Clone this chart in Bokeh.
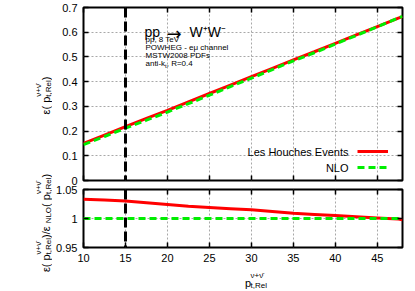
import math
from bokeh.plotting import figure
from bokeh.models import (Range1d, FixedTicker, LinearAxis, Span, Label, Legend,
                          LegendItem, PrintfTickFormatter, Grid)
from bokeh.layouts import row, column
from bokeh.embed import file_html
from bokeh.resources import INLINE
from bokeh.core.properties import value

# ---------------- data ----------------
pt_rel = [10, 12.5, 15, 17.5, 20, 22.5, 25, 27.5, 30, 32.5, 35, 37.5, 40, 42.5, 45, 47.5, 48]
eff_lhe = [0.150, 0.184, 0.218, 0.251, 0.284, 0.318, 0.352, 0.386, 0.420, 0.454,
           0.488, 0.521, 0.555, 0.589, 0.623, 0.657, 0.663]
eff_nlo = [0.145, 0.178, 0.212, 0.244, 0.277, 0.311, 0.345, 0.380, 0.414, 0.449,
           0.484, 0.517, 0.552, 0.587, 0.622, 0.658, 0.664]
ratio_lhe = [1.033, 1.032, 1.030, 1.027, 1.024, 1.021, 1.019, 1.017, 1.015, 1.012,
             1.009, 1.007, 1.005, 1.003, 1.001, 0.999, 0.998]
ratio_nlo = [1.0, 1.0, 1.0, 1.0, 1.0, 1.0, 1.0, 1.0, 1.0, 1.0,
             1.0, 1.0, 1.0, 1.0, 1.0, 1.0, 1.0]
cut_value = 15
x_ticks = [10, 15, 20, 25, 30, 35, 40, 45]
eff_ticks = [0, 0.1, 0.2, 0.3, 0.4, 0.5, 0.6, 0.7]
ratio_ticks = [0.95, 1.0, 1.05]
x_limits = (10, 48)
eff_limits = (0, 0.7)
ratio_limits = (0.95, 1.05)
series_names = ["Les Houches Events", "NLO"]
info_lines = ["pp, 8 TeV", "POWHEG - eμ channel", "MSTW2008 PDFs"]
process_parts = ["pp", "→", "W⁺W⁻"]

FONT = "Liberation Sans"
RED = "#ff0000"
GREEN = "#00ee00"

# frame geometry (pixels) of the panels
FRAME_W = 319
TOP_FRAME_H = 173
KX = (x_limits[1] - x_limits[0]) / FRAME_W          # data units per pixel (x)
KY = (eff_limits[1] - eff_limits[0]) / TOP_FRAME_H  # data units per pixel (top y)

CW = {'ε': 0.44, '(': 0.333, ')': 0.333, ' ': 0.278, 'p': 0.556, 't': 0.278, ',': 0.278,
      'R': 0.722, 'e': 0.556, 'l': 0.222, 'ν': 0.5, '+': 0.584, '\u0304': 0.0, '/': 0.278,
      'N': 0.722, 'L': 0.556, 'O': 0.778, 'k': 0.5, 'a': 0.556, 'n': 0.556, 'i': 0.222,
      '-': 0.333, '=': 0.584, '.': 0.278}


def tw(s, size):
    return sum(CW.get(c, 0.556) for c in s) * size


def compose(fig, x0, y0, segs, main=11, small=8, sub_off=-3, sup_off=7, angle=0.0,
            kx=1.0, ky=1.0, center=True):
    items = []
    cur = 0.0
    for seg in segs:
        kind = seg[0]
        if kind == "main":
            items.append((seg[1], main, cur, 0))
            cur += tw(seg[1], main)
        elif kind == "sub":
            items.append((seg[1], small, cur, sub_off))
            cur += tw(seg[1], small)
        else:
            items.append((seg[1], small, cur, sub_off))
            items.append((seg[2], small, cur, sup_off))
            cur += max(tw(seg[1], small), tw(seg[2], small))
    start = -cur / 2 if center else 0.0
    for text, size, along, perp in items:
        a = start + along
        if angle == 0.0:
            dx, dy = a, perp
        else:
            dx, dy = -perp, a
        fig.add_layout(Label(x=x0 + dx * kx, y=y0 + dy * ky, text=text,
                             angle=angle, text_font=FONT, text_font_size=f"{size}px",
                             text_color="black", text_baseline="alphabetic",
                             text_align="left"))


def add_axis(fig, side, ticks, labels=False, standoff=6):
    ax = LinearAxis(ticker=FixedTicker(ticks=ticks), formatter=PrintfTickFormatter(format="%g"))
    ax.axis_line_color = None
    ax.major_tick_in = 5
    ax.major_tick_out = 0
    ax.major_tick_line_width = 1.5
    ax.major_tick_line_color = "black"
    ax.minor_tick_in = 0
    ax.minor_tick_out = 0
    if labels:
        ax.major_label_text_font = FONT
        ax.major_label_text_font_size = "11px"
        ax.major_label_text_color = "black"
        ax.major_label_standoff = standoff
    else:
        ax.major_label_text_font_size = "1px"
        ax.major_label_text_color = None
        ax.major_label_text_alpha = 0
        ax.major_label_standoff = 0
    fig.add_layout(ax, side)


def add_grid(fig, dim, ticks):
    g = Grid(dimension=dim, ticker=FixedTicker(ticks=ticks), grid_line_color="#a8a8a8",
             grid_line_dash="2 2", grid_line_width=1)
    fig.add_layout(g)


def bare_figure(**kw):
    f = figure(x_axis_location=None, y_axis_location=None, output_backend="svg",
               toolbar_location=None, **kw)
    f.grid.visible = False
    return f


shared_x = Range1d(*x_limits)

# ---------------- top panel ----------------
top = bare_figure(width=355, height=185, x_range=shared_x, y_range=Range1d(*eff_limits),
                  min_border_left=31, min_border_right=5, min_border_top=7, min_border_bottom=5)
top.outline_line_color = "black"
top.outline_line_width = 2
add_grid(top, 0, x_ticks)
add_grid(top, 1, eff_ticks)
add_axis(top, "left", eff_ticks, labels=True)
add_axis(top, "right", eff_ticks)
add_axis(top, "below", x_ticks)
add_axis(top, "above", x_ticks)

r_lhe = top.line(pt_rel, eff_lhe, line_color=RED, line_width=3)
r_nlo = top.line(pt_rel, eff_nlo, line_color=GREEN, line_width=3, line_dash="7 4")
top.add_layout(Span(location=cut_value, dimension="height", line_color="black",
                    line_width=3, line_dash="10 4"))

legend = Legend(items=[LegendItem(label=value(" "), renderers=[r_lhe]),
                       LegendItem(label=value(" "), renderers=[r_nlo])],
                location=(274, 5), glyph_width=31, glyph_height=16, label_height=16,
                label_width=0, label_standoff=0, spacing=0, padding=0, margin=0,
                border_line_color=None, background_fill_alpha=0,
                label_text_font_size="8px", label_text_color=None)
top.add_layout(legend)

# legend texts: right edge 54 px left of the frame's right side, rows 29/13 px above bottom
for name, dpx in zip(series_names, [29, 13]):
    top.add_layout(Label(x=x_limits[1] - 54 * KX, y=eff_limits[0] + dpx * KY,
                         text=name, text_font=FONT, text_font_size="11px",
                         text_align="right", text_baseline="middle", text_color="black"))

# process label, measured in pixels from the frame's top-left corner
for part, px, py, fnt, size in zip(process_parts, [61, 83, 106], [24, 26, 24],
                                   [FONT, "DejaVu Sans", FONT], ["14px", "18px", "14px"]):
    top.add_layout(Label(x=x_limits[0] + px * KX, y=eff_limits[1] - py * KY,
                         text=part, text_font=fnt, text_font_size=size,
                         text_baseline="alphabetic", text_align="left", text_color="black"))
for i, line in enumerate(info_lines):
    top.add_layout(Label(x=x_limits[0] + 62 * KX, y=eff_limits[1] - (32 + 8 * i) * KY,
                         text=line, text_font=FONT, text_font_size="8px",
                         text_baseline="alphabetic", text_align="left", text_color="black"))
compose(top, x_limits[0] + 62 * KX, eff_limits[1] - (32 + 8 * 3) * KY,
        [("main", "anti-k"), ("sub", "t"), ("main", ", R=0.4")],
        main=8, small=6, sub_off=-2, kx=KX, ky=KY, center=False)

# ---------------- ratio panel ----------------
bot = bare_figure(width=355, height=83, x_range=shared_x, y_range=Range1d(*ratio_limits),
                  min_border_left=31, min_border_right=5, min_border_top=4, min_border_bottom=21)
bot.outline_line_color = "black"
bot.outline_line_width = 2
add_grid(bot, 0, x_ticks)
add_grid(bot, 1, ratio_ticks)
add_axis(bot, "left", ratio_ticks, labels=True)
add_axis(bot, "right", ratio_ticks)
add_axis(bot, "below", x_ticks, labels=True, standoff=6)
add_axis(bot, "above", x_ticks)

bot.line(pt_rel, ratio_lhe, line_color=RED, line_width=3)
bot.line(pt_rel, ratio_nlo, line_color=GREEN, line_width=3, line_dash="7 4")
bot.add_layout(Span(location=cut_value, dimension="height", line_color="black",
                    line_width=3, line_dash="10 4"))

# ---------------- x-axis title strip (pixel coordinates) ----------------
xlab = bare_figure(width=355, height=21, x_range=Range1d(0, 355), y_range=Range1d(0, 21),
                   min_border=0)
xlab.outline_line_color = None
compose(xlab, 191, 7, [("main", "p"), ("ss", "t,Rel", "ν+ν\u0304")], sup_off=7)

# ---------------- y-axis titles (pixel coordinates) ----------------
lab = bare_figure(width=52, height=289, x_range=Range1d(0, 52), y_range=Range1d(0, 289),
                  min_border=0)
lab.outline_line_color = None
compose(lab, 45, 195.5, [("main", "ε( p"), ("ss", "t,Rel", "ν+ν\u0304"), ("main", " )")],
        angle=math.pi / 2)
compose(lab, 45, 68, [("main", "ε( p"), ("ss", "t,Rel", "ν+ν\u0304"), ("main", " )/ε"),
                      ("sub", "NLO"), ("main", "( p"), ("ss", "t,Rel", "ν+ν\u0304"),
                      ("main", " )")], angle=math.pi / 2)

layout = row(lab, column(top, bot, xlab))
open("out.html", "w").write(file_html(layout, INLINE))
